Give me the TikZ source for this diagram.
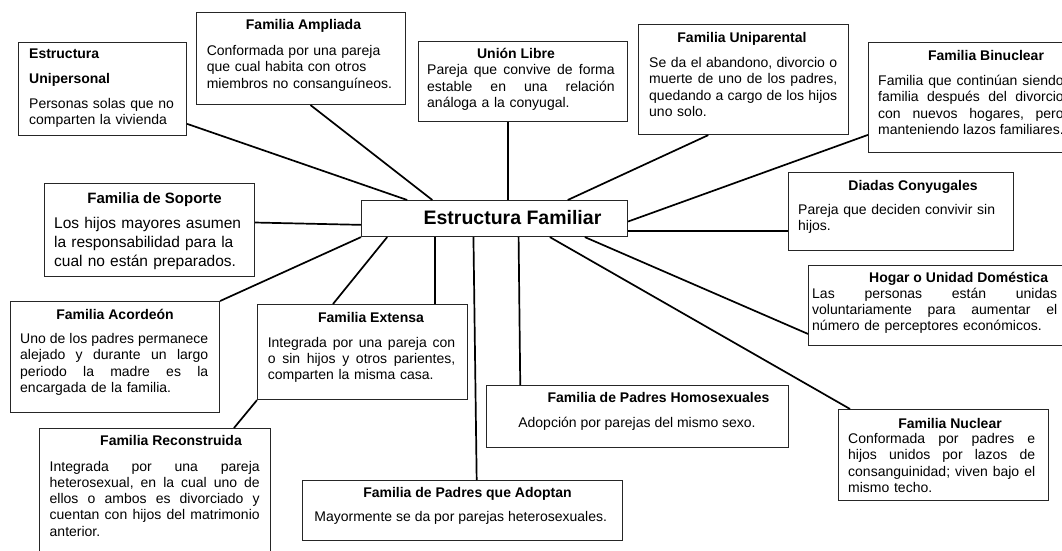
\documentclass[tikz,border=0pt]{standalone}
\usepackage{fontspec}
\setmainfont{Liberation Sans}
\usetikzlibrary{calc}

% renglon justificado: relleno entre palabras
\newlength{\jw}
\def\jl#1{\leavevmode\hbox to\jw{\jlw#1 \jlend}}
\def\jlw#1 #2\jlend{#1\ifx\relax#2\relax\else\hfil\jlw#2\jlend\fi}

\tikzset{
  card/.style={draw=black!85, line width=1.1pt, inner sep=0pt, anchor=north west},
  head/.style={font=\bfseries\fontsize{14}{16.3}\selectfont, inner sep=0pt, anchor=base},
  txt/.style={font=\fontsize{14}{16.3}\selectfont, inner sep=0pt, anchor=base west, align=left},
  tw/.style={text width=#1, execute at begin node={\setlength{\jw}{#1}}},
  link/.style={line width=1.7pt},
}

\begin{document}
\begin{tikzpicture}[x=1pt,y=-1pt]
  \useasboundingbox (0,0) rectangle (1062,551);
  \clip (0,0) rectangle (1062,551);

  % caja central
  \node[card,minimum width=266pt,minimum height=36pt] (fam) at (361,200) {};
  \node[head,font=\bfseries\fontsize{19.5}{22}\selectfont] (fam-h) at (512.5,224) {Estructura Familiar};

  % Estructura Unipersonal
  \node[card,minimum width=168pt,minimum height=93pt] (uni) at (18,42) {};
  \node[head,anchor=base west,align=left,text width=150pt] (uni-h) at (29,59) {Estructura\\[8.2pt]Unipersonal};
  \node[txt,tw=150pt] (uni-b) at (29,108) {Personas solas que no\\comparten la vivienda};

  % Familia Ampliada
  \node[card,minimum width=209pt,minimum height=92pt] (amp) at (196,12) {};
  \node[head] (amp-h) at (303.5,30) {Familia Ampliada};
  \node[txt,tw=190pt] (amp-b) at (206.6,55.5) {Conformada por una pareja\\que cual habita con otros\\miembros no consanguíneos.};

  % Union Libre
  \node[card,minimum width=209pt,minimum height=80pt] (ul) at (418,41) {};
  \node[head] (ul-h) at (516,59) {Unión Libre};
  \node[txt,tw=187.5pt] (ul-b) at (427,74.8) {\jl{Pareja que convive de forma}\\\jl{estable en una relación}\\análoga a la conyugal.};

  % Familia Uniparental
  \node[card,minimum width=210pt,minimum height=110pt] (upa) at (638,24) {};
  \node[head] (upa-h) at (742,42.5) {Familia Uniparental};
  \node[txt,tw=188pt] (upa-b) at (649,67.5) {\jl{Se da el abandono, divorcio o}\\\jl{muerte de uno de los padres,}\\\jl{quedando a cargo de los hijos}\\uno solo.};

  % Familia Binuclear
  \node[card,minimum width=217pt,minimum height=110pt] (bin) at (868,42) {};
  \node[head] (bin-h) at (986,60.5) {Familia Binuclear};
  \node[txt,tw=185.5pt] (bin-b) at (878,85.5) {\jl{Familia que continúan siendo}\\\jl{familia después del divorcio}\\\jl{con nuevos hogares, pero}\\\jl{manteniendo lazos familiares.}};

  % Familia de Soporte
  \node[card,minimum width=210pt,minimum height=93pt] (sop) at (44,183) {};
  \node[head,font=\bfseries\fontsize{15}{18}\selectfont] (sop-h) at (154.5,203) {Familia de Soporte};
  \node[txt,font=\fontsize{15.5}{19}\selectfont,tw=195pt] (sop-b) at (54,228.5) {Los hijos mayores asumen\\la responsabilidad para la\\cual no están preparados.};

  % Diadas Conyugales
  \node[card,minimum width=225pt,minimum height=78pt] (dia) at (788,172) {};
  \node[head] (dia-h) at (913,190) {Diadas Conyugales};
  \node[txt,tw=205pt] (dia-b) at (798,214.5) {Pareja que deciden convivir sin\\hijos.};

  % Hogar o Unidad Domestica
  \node[card,minimum width=267pt,minimum height=80pt] (hog) at (808,265) {};
  \node[head] (hog-h) at (958.6,282) {Hogar o Unidad Doméstica};
  \node[txt,tw=245pt] (hog-b) at (812,298) {\jl{Las personas están unidas}\\\jl{voluntariamente para aumentar el}\\número de perceptores económicos.};

  % Familia Acordeon
  \node[card,minimum width=209pt,minimum height=111pt] (acd) at (10,301) {};
  \node[head] (acd-h) at (115,319) {Familia Acordeón};
  \node[txt,tw=188pt] (acd-b) at (20,343.5) {\jl{Uno de los padres permanece}\\\jl{alejado y durante un largo}\\\jl{periodo la madre es la}\\encargada de la familia.};

  % Familia Extensa
  \node[card,minimum width=210pt,minimum height=95pt] (ext) at (257,304) {};
  \node[head] (ext-h) at (371,322.5) {Familia Extensa};
  \node[txt,tw=187.5pt] (ext-b) at (267.6,347) {\jl{Integrada por una pareja con}\\\jl{o sin hijos y otros parientes,}\\comparten la misma casa.};

  % Familia Reconstruida
  \node[card,minimum width=231pt,minimum height=132pt] (rec) at (39,428) {};
  \node[head] (rec-h) at (171,445.5) {Familia Reconstruida};
  \node[txt,tw=210pt] (rec-b) at (49.5,471) {\jl{Integrada por una pareja}\\\jl{heterosexual, en la cual uno de}\\\jl{ellos o ambos es divorciado y}\\\jl{cuentan con hijos del matrimonio}\\anterior.};

  % Familia de Padres que Adoptan
  \node[card,minimum width=320pt,minimum height=60pt] (adp) at (302,480) {};
  \node[head] (adp-h) at (467.5,497.5) {Familia de Padres que Adoptan};
  \node[txt,anchor=base] (adp-b) at (460.7,521) {Mayormente se da por parejas heterosexuales.};

  % Familia de Padres Homosexuales
  \node[card,minimum width=302pt,minimum height=62pt] (hom) at (486,385) {};
  \node[head] (hom-h) at (658.5,402.5) {Familia de Padres Homosexuales};
  \node[txt,anchor=base] (hom-b) at (637,427) {Adopción por parejas del mismo sexo.};

  % Familia Nuclear
  \node[card,minimum width=210pt,minimum height=91pt] (nuc) at (838,409) {};
  \node[head] (nuc-h) at (950,428) {Familia Nuclear};
  \node[txt,tw=187pt] (nuc-b) at (848,443.5) {\jl{Conformada por padres e}\\\jl{hijos unidos por lazos de}\\\jl{consanguinidad; viven bajo el}\\mismo techo.};

  % lineas hacia la caja central
  \draw[link] ($(uni.north east)!.87!(uni.south east)$) -- ($(fam.north west)!.173!(fam.north east)$);
  \draw[link] ($(amp.south west)!.545!(amp.south east)$) -- ($(fam.north west)!.267!(fam.north east)$);
  \coordinate (ul-s) at ($(ul.south west)!.43!(ul.south east)$);
  \draw[link] (ul-s) -- (ul-s |- fam.north);
  \draw[link] ($(upa.south west)!.333!(upa.south east)$) -- ($(fam.north west)!.774!(fam.north east)$);
  \draw[link] ($(bin.north west)!.836!(bin.south west)$) -- ($(fam.north east)!.58!(fam.south east)$);
  \draw[link] ($(sop.north east)!.42!(sop.south east)$) -- ($(fam.north west)!.67!(fam.south west)$);
  \coordinate (dia-w) at ($(fam.north east)!.83!(fam.south east)$);
  \draw[link] (dia-w) -- (dia-w -| dia.west);
  \draw[link] (acd.north east) -- (fam.south west);
  \draw[link] ($(ext.north west)!.36!(ext.north east)$) -- ($(fam.south west)!.098!(fam.south east)$);
  \coordinate (ext-n) at ($(fam.south west)!.278!(fam.south east)$);
  \draw[link] (ext-n) -- (ext-n |- ext.north);
  \draw[link] (ext.south west) -- ($(rec.north west)!.84!(rec.north east)$);
  \draw[link] ($(fam.south west)!.421!(fam.south east)$) -- ($(adp.north west)!.544!(adp.north east)$);
  \draw[link] ($(fam.south west)!.59!(fam.south east)$) -- ($(hom.north west)!.113!(hom.north east)$);
  \draw[link] ($(fam.south west)!.707!(fam.south east)$) -- ($(nuc.north west)!.057!(nuc.north east)$);
  \draw[link] ($(fam.south west)!.838!(fam.south east)$) -- ($(hog.north west)!.85!(hog.south west)$);
\end{tikzpicture}
\end{document}
